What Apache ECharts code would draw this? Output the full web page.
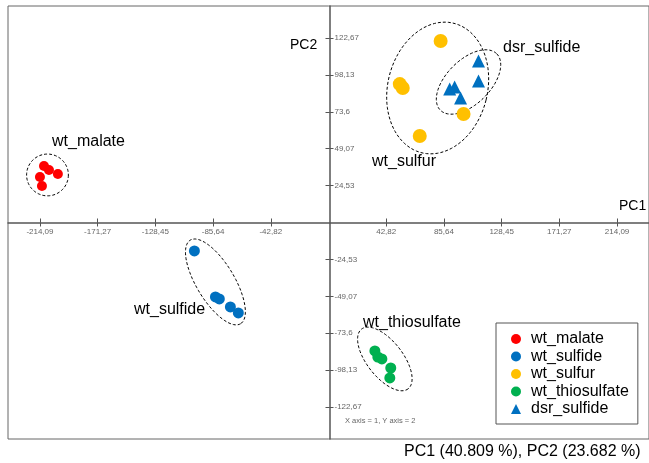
<!DOCTYPE html>
<html><head><meta charset="utf-8">
<script src="https://cdn.jsdelivr.net/npm/echarts@6/dist/echarts.min.js"></script>
<style>html,body{margin:0;padding:0;background:#fff}#c{width:649px;height:463px}</style>
</head><body><div id="c"></div>
<script>
// ---- data ----
const xTickValues = [-214.09, -171.27, -128.45, -85.64, -42.82, 42.82, 85.64, 128.45, 171.27, 214.09];
const yTickValues = [-122.67, -98.13, -73.6, -49.07, -24.53, 24.53, 49.07, 73.6, 98.13, 122.67];
const groups = ['wt_malate', 'wt_sulfide', 'wt_sulfur', 'wt_thiosulfate', 'dsr_sulfide'];

const wtMalatePC1 = [-211.1, -207.4, -200.8, -214.1, -212.6];
const wtMalatePC2 = [37.5, 34.9, 32.2, 30.2, 24.3];
const wtSulfidePC1 = [-99.5, -83.9, -81.0, -72.8, -66.9];
const wtSulfidePC2 = [-18.9, -49.5, -50.8, -56.1, -60.1];
const wtSulfurPC1 = [83.2, 52.9, 55.1, 100.2, 67.7];
const wtSulfurPC2 = [120.6, 92.0, 89.4, 72.1, 57.5];
const wtThiosulfatePC1 = [34.4, 36.6, 39.6, 46.2, 45.5];
const wtThiosulfatePC2 = [-85.4, -89.4, -90.7, -96.7, -103.3];
const dsrSulfidePC1 = [111.3, 111.3, 89.9, 93.6, 98.0];
const dsrSulfidePC2 = [107.3, 94.0, 88.7, 90.0, 82.7];

// group ellipses (annotation): centre in PC units, semi-axes in PC1 units, tilt in degrees
const ellipseCenterPC1 = [-208.5, -83.9, 81.0, 41.8, 103.9];
const ellipseCenterPC2 = [31.6, -39.5, 89.4, -90.7, 93.4];
const ellipseSemiA = [15.5, 36.2, 37.0, 28.1, 29.6];
const ellipseSemiB = [15.5, 14.1, 49.5, 13.3, 16.3];
const ellipseTilt = [0, 59, 14, 52, -45];

const footerText = 'PC1 (40.809 %), PC2 (23.682 %)';
const axesNote = 'X axis = 1, Y axis = 2';

// ---- chart ----
const zip = (a, b) => a.map((v, i) => [v, b[i]]);
const fmt = v => String(v).replace('.', ',');
const FONT = '"Liberation Sans", Arial, sans-serif';

const GRID = {left: 8, top: 6, width: 643, height: 433};
const X_RANGE = {min: -237.8, max: 237.8};
const Y_RANGE = {min: -143.9, max: 143.9};

const chart = echarts.init(document.getElementById('c'), null, {renderer: 'canvas'});

const ellipseData = ellipseCenterPC1.map((v, i) => [v, ellipseCenterPC2[i], ellipseSemiA[i], ellipseSemiB[i], ellipseTilt[i]]);

const tickStyle = {color: '#555', width: 1};

const option = {
  animation: false,
  backgroundColor: '#fff',
  grid: Object.assign({show: true, borderColor: '#666', borderWidth: 1, backgroundColor: 'transparent'}, GRID),
  xAxis: [{
    type: 'value', min: X_RANGE.min, max: X_RANGE.max, position: 'bottom',
    offset: -GRID.height / 2,
    axisLine: {onZero: false, lineStyle: {color: '#555', width: 1.5}},
    axisTick: {customValues: xTickValues, length: 4, lineStyle: tickStyle},
    axisLabel: {customValues: xTickValues, formatter: fmt, fontSize: 8, color: '#666', margin: 5, fontFamily: FONT},
    splitLine: {show: false}
  }, {
    type: 'value', min: X_RANGE.min, max: X_RANGE.max, position: 'bottom',
    offset: -GRID.height / 2,
    axisLine: {show: false, onZero: false},
    axisTick: {customValues: xTickValues, inside: true, length: 4, lineStyle: tickStyle},
    axisLabel: {show: false},
    splitLine: {show: false}
  }],
  yAxis: [{
    type: 'value', min: Y_RANGE.min, max: Y_RANGE.max, position: 'left',
    offset: -GRID.width / 2,
    axisLine: {onZero: false, lineStyle: {color: '#555', width: 1.5}},
    axisTick: {customValues: yTickValues, length: 4, lineStyle: tickStyle},
    axisLabel: {customValues: yTickValues, inside: true, formatter: fmt, fontSize: 8, color: '#666', margin: 5, fontFamily: FONT},
    splitLine: {show: false}
  }, {
    type: 'value', min: Y_RANGE.min, max: Y_RANGE.max, position: 'left',
    offset: -GRID.width / 2,
    axisLine: {show: false, onZero: false},
    axisTick: {customValues: yTickValues, inside: true, length: 4, lineStyle: tickStyle},
    axisLabel: {show: false},
    splitLine: {show: false}
  }],
  legend: {
    orient: 'vertical', left: 496, top: 323,
    padding: [8, 9, 7, 15], itemGap: 1.5, itemWidth: 10, itemHeight: 10,
    borderColor: '#555', borderWidth: 1, backgroundColor: '#fff',
    textStyle: {fontSize: 16, fontFamily: FONT, color: '#000', lineHeight: 16, padding: [0, 0, 0, 5]},
    data: [
      {name: groups[0], icon: 'circle'},
      {name: groups[1], icon: 'circle'},
      {name: groups[2], icon: 'circle'},
      {name: groups[3], icon: 'circle'},
      {name: groups[4], icon: 'triangle'}
    ]
  },
  series: [
    {
      type: 'custom', name: 'ellipses', z: 1, silent: true,
      data: ellipseData,
      renderItem: function (params, api) {
        const c = api.coord([api.value(0), api.value(1)]);
        const a = api.size([api.value(2), 0])[0];
        const b = api.size([api.value(3), 0])[0];
        const th = api.value(4) * Math.PI / 180;
        const pts = [];
        for (let i = 0; i < 90; i++) {
          const t = i / 90 * 2 * Math.PI;
          const ex = a * Math.cos(t), ey = b * Math.sin(t);
          pts.push([c[0] + ex * Math.cos(th) - ey * Math.sin(th), c[1] + ex * Math.sin(th) + ey * Math.cos(th)]);
        }
        return {type: 'polygon', shape: {points: pts}, style: {fill: 'none', stroke: '#000', lineWidth: 1, lineDash: [3, 2]}};
      }
    },
    {type: 'scatter', name: groups[0], z: 3, symbol: 'circle', symbolSize: 10, itemStyle: {color: '#FF0000', opacity: 1}, data: zip(wtMalatePC1, wtMalatePC2)},
    {type: 'scatter', name: groups[1], z: 3, symbol: 'circle', symbolSize: 11, itemStyle: {color: '#0070C0', opacity: 1}, data: zip(wtSulfidePC1, wtSulfidePC2)},
    {type: 'scatter', name: groups[2], z: 3, symbol: 'circle', symbolSize: 14, itemStyle: {color: '#FFC000', opacity: 1}, data: zip(wtSulfurPC1, wtSulfurPC2)},
    {type: 'scatter', name: groups[3], z: 3, symbol: 'circle', symbolSize: 11, itemStyle: {color: '#00B050', opacity: 1}, data: zip(wtThiosulfatePC1, wtThiosulfatePC2)},
    {type: 'scatter', name: groups[4], z: 4, symbol: 'triangle', symbolSize: 13, itemStyle: {color: '#0070C0', opacity: 1}, data: zip(dsrSulfidePC1, dsrSulfidePC2)}
  ],
  graphic: [
    {type: 'text', x: 619, y: 206, style: {text: 'PC1', font: '14px ' + FONT, fill: '#000', verticalAlign: 'middle'}},
    {type: 'text', x: 290, y: 45, style: {text: 'PC2', font: '14px ' + FONT, fill: '#000', verticalAlign: 'middle'}},
    {type: 'text', x: 52, y: 142, style: {text: groups[0], font: '16px ' + FONT, fill: '#000', verticalAlign: 'middle'}},
    {type: 'text', x: 134, y: 310, style: {text: groups[1], font: '16px ' + FONT, fill: '#000', verticalAlign: 'middle'}},
    {type: 'text', x: 372, y: 162, style: {text: groups[2], font: '16px ' + FONT, fill: '#000', verticalAlign: 'middle'}},
    {type: 'text', x: 363, y: 323, style: {text: groups[3], font: '16px ' + FONT, fill: '#000', verticalAlign: 'middle'}},
    {type: 'text', x: 503, y: 48, style: {text: groups[4], font: '16px ' + FONT, fill: '#000', verticalAlign: 'middle'}},
    {type: 'text', x: 345, y: 421, style: {text: axesNote, font: '7.5px ' + FONT, fill: '#666', verticalAlign: 'middle'}},
    {type: 'text', x: 404, y: 452, style: {text: footerText, font: '16px ' + FONT, fill: '#000', verticalAlign: 'middle'}}
  ]
};
chart.setOption(option);
</script>
</body></html>
